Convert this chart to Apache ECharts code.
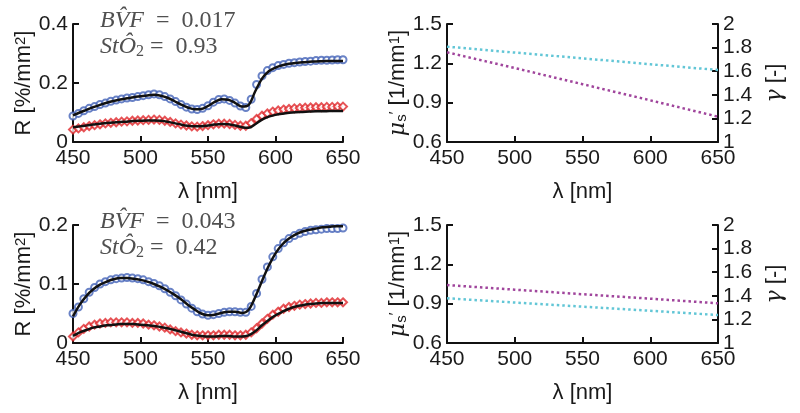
<!DOCTYPE html>
<html><head><meta charset="utf-8">
<script src="https://cdn.jsdelivr.net/npm/echarts@6/dist/echarts.min.js"></script>
<style>html,body{margin:0;padding:0;background:#fff}#c{width:800px;height:413px}</style>
</head><body><div id="c"></div>
<script>
// ---------------- DATA ----------------
const xTicks = [450, 500, 550, 600, 650];
const wlMeas = [450,454,458,462,466,470,474,478,482,486,490,494,498,502,506,510,514,518,522,526,530,534,538,542,546,550,554,558,562,566,570,574,578,582,586,590,594,598,602,606,610,614,618,622,626,630,634,638,642,646,650];
const wlFit = [450,455,460,465,470,475,480,485,490,495,500,505,510,515,520,525,530,535,540,545,550,555,560,565,570,575,580,585,590,595,600,605,610,615,620,625,630,635,640,645,650];

// top case (BVF 0.017, StO2 0.93)
const topBlueMeas = [0.088,0.097,0.106,0.114,0.120,0.127,0.132,0.138,0.142,0.146,0.149,0.151,0.154,0.157,0.160,0.163,0.160,0.154,0.146,0.137,0.127,0.118,0.112,0.110,0.114,0.123,0.135,0.144,0.146,0.141,0.132,0.122,0.117,0.145,0.195,0.224,0.242,0.252,0.259,0.263,0.267,0.269,0.271,0.273,0.274,0.276,0.277,0.277,0.278,0.279,0.279];
const topBlueFit = [0.090,0.100,0.109,0.118,0.126,0.133,0.139,0.144,0.148,0.152,0.155,0.158,0.160,0.157,0.150,0.139,0.127,0.117,0.111,0.112,0.122,0.136,0.145,0.143,0.133,0.120,0.125,0.172,0.215,0.240,0.252,0.260,0.265,0.268,0.270,0.272,0.273,0.274,0.275,0.275,0.275];
const topRedMeas = [0.042,0.046,0.050,0.054,0.057,0.060,0.063,0.065,0.067,0.069,0.070,0.072,0.073,0.074,0.075,0.076,0.075,0.072,0.068,0.063,0.059,0.056,0.053,0.052,0.054,0.057,0.060,0.062,0.062,0.061,0.058,0.055,0.055,0.064,0.078,0.089,0.097,0.103,0.107,0.110,0.112,0.114,0.115,0.116,0.117,0.118,0.118,0.119,0.119,0.120,0.120];
const topRedFit = [0.050,0.053,0.056,0.059,0.062,0.064,0.066,0.068,0.069,0.071,0.072,0.073,0.073,0.072,0.069,0.064,0.059,0.055,0.053,0.053,0.056,0.059,0.061,0.060,0.056,0.050,0.048,0.060,0.076,0.086,0.092,0.096,0.099,0.101,0.102,0.103,0.104,0.104,0.105,0.105,0.105];

// bottom case (BVF 0.043, StO2 0.42)
const botBlueMeas = [0.050,0.061,0.075,0.086,0.094,0.100,0.104,0.107,0.109,0.110,0.111,0.110,0.109,0.107,0.104,0.101,0.097,0.092,0.086,0.080,0.073,0.066,0.059,0.053,0.049,0.047,0.048,0.050,0.052,0.053,0.053,0.052,0.052,0.062,0.084,0.108,0.129,0.146,0.160,0.170,0.177,0.182,0.186,0.189,0.191,0.192,0.193,0.194,0.194,0.194,0.195];
const botBlueFit = [0.045,0.065,0.080,0.091,0.099,0.104,0.108,0.110,0.110,0.109,0.107,0.104,0.100,0.095,0.089,0.082,0.074,0.065,0.057,0.050,0.047,0.048,0.051,0.053,0.053,0.051,0.056,0.078,0.105,0.131,0.152,0.167,0.177,0.184,0.189,0.192,0.194,0.196,0.197,0.198,0.198];
const botRedMeas = [0.011,0.018,0.024,0.028,0.031,0.033,0.034,0.035,0.035,0.035,0.035,0.034,0.034,0.033,0.031,0.030,0.028,0.026,0.023,0.020,0.018,0.016,0.014,0.013,0.013,0.013,0.013,0.014,0.014,0.014,0.013,0.013,0.014,0.018,0.025,0.033,0.041,0.048,0.053,0.058,0.061,0.063,0.065,0.066,0.067,0.068,0.068,0.069,0.069,0.069,0.069];
const botRedFit = [0.012,0.018,0.022,0.026,0.028,0.030,0.031,0.032,0.032,0.032,0.031,0.030,0.029,0.027,0.025,0.022,0.019,0.016,0.013,0.012,0.011,0.011,0.012,0.012,0.011,0.011,0.013,0.020,0.030,0.039,0.047,0.053,0.058,0.062,0.064,0.066,0.067,0.068,0.068,0.068,0.068];

// optical properties (right panels)
const wlProp = [450, 500, 550, 600, 650];
const topMus = [1.284, 1.164, 1.041, 0.918, 0.793];
const topGamma = [1.808, 1.758, 1.709, 1.659, 1.610];
const botMus = [1.042, 1.007, 0.972, 0.938, 0.903];
const botGamma = [1.379, 1.343, 1.308, 1.273, 1.237];

const annotTop = ['BV\u0302F', '0.017', 'StÔ', '0.93'];
const annotBot = ['BV\u0302F', '0.043', 'StÔ', '0.42'];

// ---------------- CHART ----------------
const pair = (xs, ys) => xs.map((x, i) => [x, ys[i]]);
const FONT = 'Liberation Sans, Arial, sans-serif';
const TXT = '#1a1a1a';
const BLUE = '#4463b8', RED = '#e0282c', CYAN = '#62c6d6', MAG = '#a0459c';
const TICKFS = 21, NAMEFS = 22;

const axisLine = { show: true, onZero: false, lineStyle: { color: '#111', width: 2 } };
const axisTick = { show: true, inside: true, length: 6, lineStyle: { color: '#111', width: 2 } };
const fmt1 = v => { const r = Math.round(v * 10) / 10; return String(r); };

function xAx(gi) {
  return {
    type: 'value', gridIndex: gi, min: 450, max: 650, interval: 50,
    name: 'λ [nm]', nameLocation: 'middle', nameGap: 39,
    nameTextStyle: { fontSize: NAMEFS, color: TXT, fontFamily: FONT },
    axisLine, axisTick, splitLine: { show: false },
    axisLabel: { fontSize: TICKFS, color: TXT, fontFamily: FONT, margin: 6 }
  };
}
const supRich = {
  sup: { fontSize: 15, verticalAlign: 'top', color: TXT, fontFamily: FONT, padding: [0, 0, 7, 0] },
  sub: { fontSize: 15, verticalAlign: 'bottom', color: TXT, fontFamily: FONT, padding: [7, 0, 0, 0] },
  mu: { fontSize: NAMEFS, fontStyle: 'italic', color: TXT, fontFamily: 'DejaVu Serif, serif' },
  g: { fontSize: NAMEFS, fontStyle: 'italic', color: TXT, fontFamily: 'DejaVu Serif, serif' }
};
function yR(gi, max, interval) {
  return {
    type: 'value', gridIndex: gi, min: 0, max, interval, position: 'left',
    name: 'R [%/mm{sup|2}]', nameLocation: 'middle', nameGap: 37, nameRotate: 90,
    nameTextStyle: { fontSize: NAMEFS, color: TXT, fontFamily: FONT, rich: supRich },
    axisLine, axisTick, splitLine: { show: false },
    axisLabel: { fontSize: TICKFS, color: TXT, fontFamily: FONT, margin: 5, formatter: v => String(Math.round(v * 10) / 10) }
  };
}
function yMu(gi) {
  return {
    type: 'value', gridIndex: gi, min: 0.6, max: 1.5, interval: 0.3, position: 'left',
    name: '{mu|μ}{sub|s}{sup|\u2032} [1/mm{sup|1}]', nameLocation: 'middle', nameGap: 22, nameRotate: 90,
    nameTextStyle: { fontSize: NAMEFS, color: TXT, fontFamily: FONT, rich: supRich },
    axisLine, axisTick, splitLine: { show: false },
    axisLabel: { fontSize: TICKFS, color: TXT, fontFamily: FONT, margin: 5, formatter: fmt1 }
  };
}
function yGam(gi) {
  return {
    type: 'value', gridIndex: gi, min: 1, max: 2, interval: 0.2, position: 'right',
    name: '{g|γ} [-]', nameLocation: 'middle', nameGap: 46, nameRotate: 90,
    nameTextStyle: { fontSize: NAMEFS, color: TXT, fontFamily: FONT, rich: supRich },
    axisLine, axisTick, splitLine: { show: false },
    axisLabel: { fontSize: TICKFS, color: TXT, fontFamily: FONT, margin: 5, formatter: fmt1 }
  };
}
function meas(xi, yi, data, color, symbol, size) {
  return { type: 'scatter', xAxisIndex: xi, yAxisIndex: yi, data, symbol, symbolSize: size,
    itemStyle: { color, borderWidth: 1.2 }, silent: true, z: 2 };
}
function fit(xi, yi, data) {
  return { type: 'line', xAxisIndex: xi, yAxisIndex: yi, data, smooth: 0.35, showSymbol: false,
    lineStyle: { color: '#111', width: 2.5 }, silent: true, z: 3 };
}
function prop(xi, yi, data, color) {
  return { type: 'line', xAxisIndex: xi, yAxisIndex: yi, data, showSymbol: false,
    lineStyle: { color, width: 2.5, type: [2.5, 3] }, silent: true, z: 3 };
}
function annot(lines, top) {
  const rich = {
    i: { fontFamily: 'Liberation Serif, serif', fontStyle: 'italic', fontSize: 24, color: '#505050' },
    r: { fontFamily: 'Liberation Serif, serif', fontSize: 24, color: '#505050' },
    s: { fontFamily: 'Liberation Serif, serif', fontSize: 16, color: '#505050', padding: [9, 0, 0, 0] }
  };
  return [
    { type: 'text', left: 100, top: top, style: { text: '{i|' + lines[0] + '}{r|  =  ' + lines[1] + '}', rich, fill: '#505050' } },
    { type: 'text', left: 100, top: top + 26, style: { text: '{i|' + lines[2] + '}{s|2}{r| =  ' + lines[3] + '}', rich, fill: '#505050' } }
  ];
}

const chart = echarts.init(document.getElementById('c'), null, { renderer: 'canvas' });
chart.setOption({
  backgroundColor: '#fff',
  animation: false,
  textStyle: { fontFamily: FONT },
  grid: [
    { left: 73, top: 24, width: 270, height: 118, containLabel: false, outerBoundsMode: 'none' },
    { left: 447, top: 24, width: 271, height: 118, containLabel: false, outerBoundsMode: 'none' },
    { left: 73, top: 225, width: 270, height: 118, containLabel: false, outerBoundsMode: 'none' },
    { left: 447, top: 225, width: 271, height: 118, containLabel: false, outerBoundsMode: 'none' }
  ],
  xAxis: [xAx(0), xAx(1), xAx(2), xAx(3)],
  yAxis: [yR(0, 0.4, 0.2), yMu(1), yGam(1), yR(2, 0.2, 0.1), yMu(3), yGam(3)],
  series: [
    meas(0, 0, pair(wlMeas, topBlueMeas), BLUE, 'emptyCircle', 7),
    meas(0, 0, pair(wlMeas, topRedMeas), RED, 'emptyDiamond', 8),
    fit(0, 0, pair(wlFit, topBlueFit)),
    fit(0, 0, pair(wlFit, topRedFit)),
    prop(1, 1, pair(wlProp, topMus), MAG),
    prop(1, 2, pair(wlProp, topGamma), CYAN),
    meas(2, 3, pair(wlMeas, botBlueMeas), BLUE, 'emptyCircle', 7),
    meas(2, 3, pair(wlMeas, botRedMeas), RED, 'emptyDiamond', 8),
    fit(2, 3, pair(wlFit, botBlueFit)),
    fit(2, 3, pair(wlFit, botRedFit)),
    prop(3, 4, pair(wlProp, botMus), MAG),
    prop(3, 5, pair(wlProp, botGamma), CYAN)
  ],
  graphic: [...annot(annotTop, 9), ...annot(annotBot, 210)]
});
</script>
</body></html>
